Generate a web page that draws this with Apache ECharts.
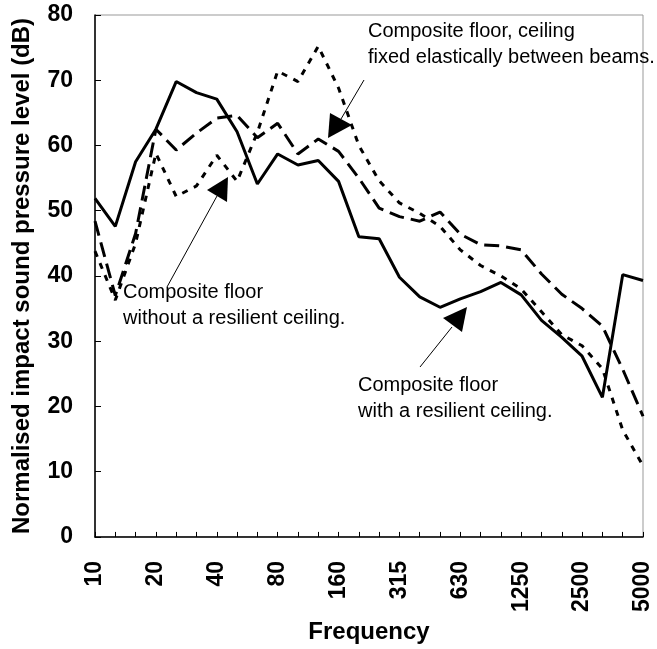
<!DOCTYPE html>
<html>
<head>
<meta charset="utf-8">
<script src="https://cdn.jsdelivr.net/npm/echarts@6/dist/echarts.min.js"></script>
<style>
  html, body { margin: 0; padding: 0; background: #fff; }
</style>
</head>
<body>
<div id="chart" style="width: 657px; height: 649px"></div>
<script>
// 1/3 octave bands (Hz)
const freqs = ["10", "12.5", "16", "20", "25", "31.5", "40", "50", "63", "80", "100", "125", "160", "200",
  "250", "315", "400", "500", "630", "800", "1000", "1250", "1600", "2000", "2500", "3150", "4000", "5000"];

// composite floor with a resilient ceiling (solid)
const withResilient = [51.9, 47.6, 57.5, 62.5, 69.8, 68.1, 67.1, 62.1, 54.1, 58.7, 57.0, 57.7, 54.5, 46.0,
  45.7, 39.8, 36.8, 35.2, 36.5, 37.6, 39.0, 37.1, 33.2, 30.6, 27.7, 21.4, 40.2, 39.3];

// composite floor, ceiling fixed elastically between beams (long dash)
const fixedElastic = [48.4, 37.0, 46.5, 62.5, 59.3, 61.9, 64.2, 64.6, 61.2, 63.4, 58.7, 61.0, 59.1, 55.0,
  50.4, 49.1, 48.4, 49.8, 46.4, 44.8, 44.6, 44.0, 40.3, 37.2, 35.0, 32.3, 25.7, 18.5];

// composite floor without a resilient ceiling (short dash)
const withoutResilient = [43.8, 36.3, 45.0, 58.8, 52.2, 53.8, 58.5, 54.5, 62.0, 71.4, 69.8, 75.2, 68.8, 60.0,
  54.6, 51.2, 49.6, 47.6, 44.0, 41.6, 40.0, 38.0, 34.5, 31.0, 29.3, 25.8, 16.4, 10.9];

const yTicks = { min: 0, max: 80, step: 10 };

const FONT = "'Liberation Sans', Arial, sans-serif";

function lineSeries(name, values, dash) {
  return {
    name: name,
    type: "line",
    data: values,
    symbol: "none",
    lineStyle: { color: "#000", width: 3, type: dash },
    z: 3
  };
}

// annotation text + arrow
function note(lines, x, y, from, to, head) {
  return [
    {
      type: "text",
      x: x, y: y,
      style: { text: lines.join("\n"), font: "20px " + FONT, fill: "#000", lineHeight: 26 }
    },
    {
      type: "line",
      shape: { x1: from[0], y1: from[1], x2: to[0], y2: to[1] },
      style: { stroke: "#000", lineWidth: 1 }
    },
    {
      type: "polygon",
      shape: { points: head },
      style: { fill: "#000" }
    }
  ];
}

const option = {
  animation: false,
  backgroundColor: "#fff",
  textStyle: { fontFamily: FONT },
  grid: {
    left: 95, right: 14, top: 15, bottom: 109,
    show: true, borderColor: "#999", borderWidth: 1
  },
  xAxis: {
    type: "category",
    data: freqs,
    boundaryGap: false,
    axisLine: { lineStyle: { color: "#000", width: 1.5 } },
    axisTick: { inside: true, length: 5, interval: 0, lineStyle: { color: "#000" } },
    axisLabel: {
      interval: 2, rotate: 90, margin: 24,
      fontSize: 23, fontWeight: "bold", color: "#000", fontFamily: FONT
    },
    name: "Frequency",
    nameLocation: "middle",
    nameGap: 64,
    nameTextStyle: { fontSize: 24, fontWeight: "bold", color: "#000", fontFamily: FONT },
    splitLine: { show: false }
  },
  yAxis: {
    type: "value",
    min: yTicks.min, max: yTicks.max, interval: yTicks.step,
    axisLine: { show: true, lineStyle: { color: "#000", width: 1.5 } },
    axisTick: { show: true, inside: true, length: 6, lineStyle: { color: "#000" } },
    axisLabel: { margin: 22, fontSize: 23, fontWeight: "bold", color: "#000", fontFamily: FONT },
    name: "Normalised impact sound pressure level (dB)",
    nameLocation: "middle",
    nameGap: 61,
    nameTextStyle: { fontSize: 24, fontWeight: "bold", color: "#000", fontFamily: FONT },
    splitLine: { show: false }
  },
  series: [
    lineSeries("Composite floor with a resilient ceiling.", withResilient, "solid"),
    lineSeries("Composite floor, ceiling fixed elastically between beams.", fixedElastic, [15, 7]),
    lineSeries("Composite floor without a resilient ceiling.", withoutResilient, [6, 7])
  ],
  graphic: [].concat(
    note(["Composite floor, ceiling", "fixed elastically between beams."], 368, 18,
      [364, 80], [341, 119], [[330, 113], [352, 125], [328, 138]]),
    note(["Composite floor", "without a resilient ceiling."], 123, 279,
      [167, 287], [217, 196], [[207, 190], [228, 177], [227, 202]]),
    note(["Composite floor", "with a resilient ceiling."], 358, 372,
      [420, 367], [452, 327], [[443, 318], [467, 307], [462, 332]])
  )
};

const myChart = echarts.init(document.getElementById("chart"));
myChart.setOption(option);
</script>
</body>
</html>
